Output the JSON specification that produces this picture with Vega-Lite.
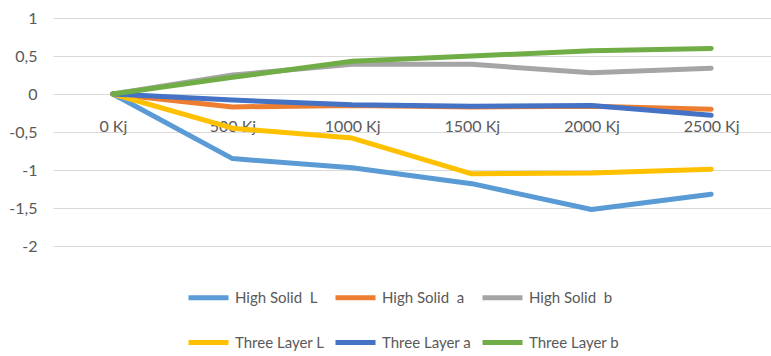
{
  "$schema": "https://vega.github.io/schema/vega-lite/v6.json",
  "autosize": "none",
  "padding": {"left": 53, "top": 18, "right": 0, "bottom": 110},
  "width": 718,
  "height": 228,
  "background": "white",
  "config": {
    "view": {"stroke": null},
    "font": "Lato"
  },
  "data": {
    "values": [
      {"step": "0 Kj", "series": "High Solid\u00a0 L", "value": 0},
      {"step": "500 Kj", "series": "High Solid\u00a0 L", "value": -0.85},
      {"step": "1000 Kj", "series": "High Solid\u00a0 L", "value": -0.97},
      {"step": "1500 Kj", "series": "High Solid\u00a0 L", "value": -1.18},
      {"step": "2000 Kj", "series": "High Solid\u00a0 L", "value": -1.52},
      {"step": "2500 Kj", "series": "High Solid\u00a0 L", "value": -1.32},
      {"step": "0 Kj", "series": "High Solid\u00a0 a", "value": 0},
      {"step": "500 Kj", "series": "High Solid\u00a0 a", "value": -0.17},
      {"step": "1000 Kj", "series": "High Solid\u00a0 a", "value": -0.15},
      {"step": "1500 Kj", "series": "High Solid\u00a0 a", "value": -0.17},
      {"step": "2000 Kj", "series": "High Solid\u00a0 a", "value": -0.16},
      {"step": "2500 Kj", "series": "High Solid\u00a0 a", "value": -0.2},
      {"step": "0 Kj", "series": "High Solid\u00a0 b", "value": 0},
      {"step": "500 Kj", "series": "High Solid\u00a0 b", "value": 0.25},
      {"step": "1000 Kj", "series": "High Solid\u00a0 b", "value": 0.39},
      {"step": "1500 Kj", "series": "High Solid\u00a0 b", "value": 0.39},
      {"step": "2000 Kj", "series": "High Solid\u00a0 b", "value": 0.28},
      {"step": "2500 Kj", "series": "High Solid\u00a0 b", "value": 0.34},
      {"step": "0 Kj", "series": "Three Layer L", "value": 0},
      {"step": "500 Kj", "series": "Three Layer L", "value": -0.45},
      {"step": "1000 Kj", "series": "Three Layer L", "value": -0.58},
      {"step": "1500 Kj", "series": "Three Layer L", "value": -1.05},
      {"step": "2000 Kj", "series": "Three Layer L", "value": -1.04},
      {"step": "2500 Kj", "series": "Three Layer L", "value": -0.99},
      {"step": "0 Kj", "series": "Three Layer a", "value": 0},
      {"step": "500 Kj", "series": "Three Layer a", "value": -0.08},
      {"step": "1000 Kj", "series": "Three Layer a", "value": -0.14},
      {"step": "1500 Kj", "series": "Three Layer a", "value": -0.16},
      {"step": "2000 Kj", "series": "Three Layer a", "value": -0.15},
      {"step": "2500 Kj", "series": "Three Layer a", "value": -0.28},
      {"step": "0 Kj", "series": "Three Layer b", "value": 0},
      {"step": "500 Kj", "series": "Three Layer b", "value": 0.22},
      {"step": "1000 Kj", "series": "Three Layer b", "value": 0.43},
      {"step": "1500 Kj", "series": "Three Layer b", "value": 0.5},
      {"step": "2000 Kj", "series": "Three Layer b", "value": 0.57},
      {"step": "2500 Kj", "series": "Three Layer b", "value": 0.6}
    ]
  },
  "mark": {"type": "line", "strokeWidth": 5, "strokeCap": "round", "strokeJoin": "round"},
  "encoding": {
    "x": {
      "field": "step",
      "type": "ordinal",
      "sort": ["0 Kj", "500 Kj", "1000 Kj", "1500 Kj", "2000 Kj", "2500 Kj"],
      "scale": {"type": "point", "padding": 0.5},
      "axis": {
        "title": null,
        "orient": "bottom",
        "offset": -152,
        "domain": false,
        "ticks": false,
        "grid": false,
        "labelAngle": 0,
        "labelFontSize": 16,
        "labelColor": "#595959",
        "labelPadding": 24,
        "labelBaseline": "top"
      }
    },
    "y": {
      "field": "value",
      "type": "quantitative",
      "scale": {"domain": [-2, 1], "nice": false, "zero": false},
      "axis": {
        "title": null,
        "values": [-2, -1.5, -1, -0.5, 0, 0.5, 1],
        "labelExpr": "replace(replace(format(datum.value, ''), '.', ','), '\u2212', '-')",
        "domain": false,
        "ticks": false,
        "grid": true,
        "gridColor": "#d9d9d9",
        "gridWidth": 1,
        "labelFontSize": 16,
        "labelColor": "#595959",
        "labelPadding": 16
      }
    },
    "color": {
      "field": "series",
      "type": "nominal",
      "sort": ["High Solid\u00a0 L", "High Solid\u00a0 a", "High Solid\u00a0 b", "Three Layer L", "Three Layer a", "Three Layer b"],
      "scale": {
        "domain": ["High Solid\u00a0 L", "High Solid\u00a0 a", "High Solid\u00a0 b", "Three Layer L", "Three Layer a", "Three Layer b"],
        "range": ["#5B9BD5", "#ED7D31", "#A5A5A5", "#FFC000", "#4472C4", "#70AD47"]
      },
      "legend": {
        "title": null,
        "orient": "none",
        "legendX": 133,
        "legendY": 257,
        "padding": 0,
        "direction": "horizontal",
        "columns": 3,
        "symbolType": "stroke",
        "symbolSize": 1600,
        "symbolStrokeWidth": 5,
        "labelFontSize": 15,
        "labelColor": "#595959",
        "labelOffset": 4,
        "columnPadding": 0,
        "rowPadding": 12,
        "labelLimit": 200
      }
    }
  }
}
